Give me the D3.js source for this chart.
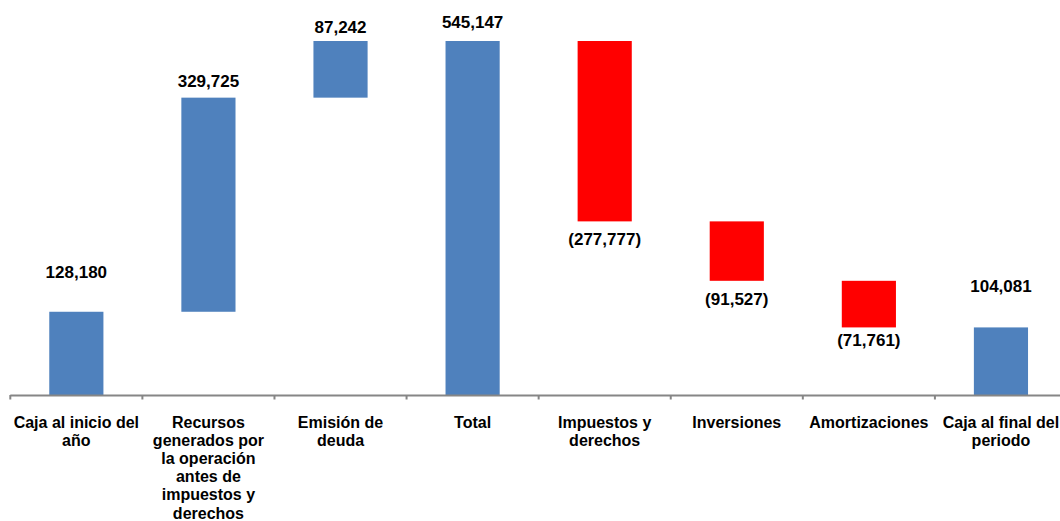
<!DOCTYPE html>
<html><head><meta charset="utf-8">
<script src="https://cdn.jsdelivr.net/npm/d3@7"></script>
<style>
html,body{margin:0;padding:0;background:#fff;}
svg{display:block;font-family:"Liberation Sans",Arial,sans-serif;}
</style></head>
<body><svg id="c" width="1060" height="521"></svg>
<script>
const categories = ["Caja al inicio del año","Recursos generados por la operación antes de impuestos y derechos","Emisión de deuda","Total","Impuestos y derechos","Inversiones","Amortizaciones","Caja al final del periodo"];
const categoryLines = [
  ["Caja al inicio  del","año"],
  ["Recursos","generados por","la operación","antes de","impuestos y","derechos"],
  ["Emisión de","deuda"],
  ["Total"],
  ["Impuestos y","derechos"],
  ["Inversiones"],
  ["Amortizaciones"],
  ["Caja al final del","periodo"]
];
const values = [128180, 329725, 87242, 545147, -277777, -91527, -71761, 104081];
const kinds = ["total","delta","delta","total","delta","delta","delta","total"];
const valueLabels = ["128,180","329,725","87,242","545,147","(277,777)","(91,527)","(71,761)","104,081"];

// layout / style
const labelDy = [-34,-11,-8,-13,24,24.5,18.5,-35];
const blue = "#4F81BD", red = "#FF0000";

// compute waterfall segments
let run = 0;
const segs = values.map((v,i)=>{
  let lo, hi;
  if (kinds[i]==="total"){ lo=0; hi=v; run=v; }
  else { const s=run; run=s+v; lo=Math.min(s,run); hi=Math.max(s,run); }
  return {cat:categories[i], lo, hi, v, i};
});

const svg = d3.select("#c");
const x = d3.scaleBand().domain(categories).range([10.3, 1067]).paddingInner(0.59).paddingOuter(0.295);
const y = d3.scaleLinear().domain([0, 545147]).range([395, 41]);

svg.selectAll("rect.bar").data(segs).join("rect")
  .attr("class","bar")
  .attr("x", d=>x(d.cat)).attr("width", x.bandwidth())
  .attr("y", d=>y(d.hi)).attr("height", d=>y(d.lo)-y(d.hi))
  .attr("fill", d=>d.v<0?red:blue);

// axis
const step = x.step();
const x0 = x.range()[0];
svg.append("line").attr("x1",x0).attr("x2",x.range()[1]).attr("y1",y(0)+0.5).attr("y2",y(0)+0.5)
  .attr("stroke","#868686").attr("stroke-width",2.2);
svg.selectAll("line.tick").data(d3.range(categories.length+1)).join("line")
  .attr("class","tick")
  .attr("x1",i=>x0+i*step).attr("x2",i=>x0+i*step)
  .attr("y1",y(0)).attr("y2",y(0)+4.5)
  .attr("stroke","#868686").attr("stroke-width",2);

// value labels
svg.selectAll("text.val").data(segs).join("text")
  .attr("class","val")
  .attr("x", d=>x(d.cat)+x.bandwidth()/2)
  .attr("y", d=> d.v<0 ? y(d.lo)+labelDy[d.i] : y(d.hi)+labelDy[d.i])
  .attr("text-anchor","middle")
  .attr("font-size",17).attr("font-weight","bold").attr("fill","#000")
  .text(d=>valueLabels[d.i]);

// category labels
categories.forEach((c,i)=>{
  const t = svg.append("text").attr("text-anchor","middle")
    .attr("font-size",16).attr("font-weight","bold").attr("fill","#000");
  categoryLines[i].forEach((ln,j)=>{
    t.append("tspan").attr("x", x(c)+x.bandwidth()/2).attr("y", 428+j*18.1).text(ln);
  });
});
</script></body></html>
